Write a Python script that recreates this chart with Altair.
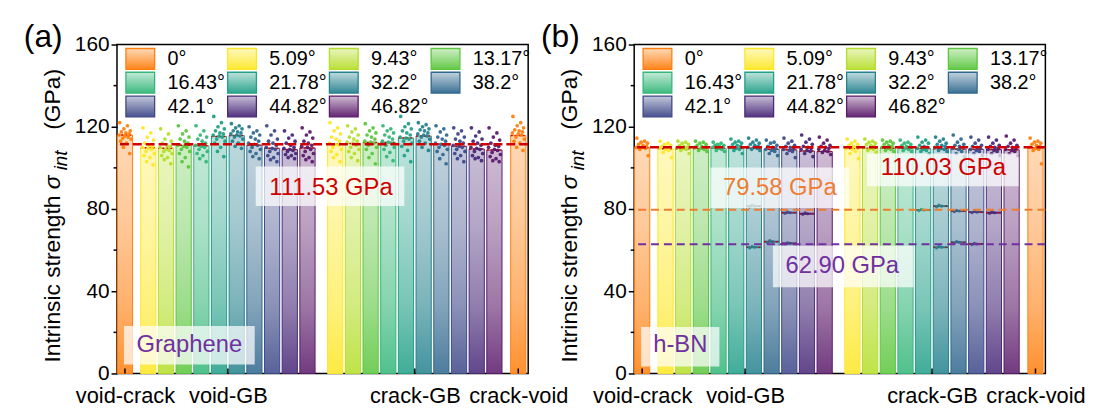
import altair as alt
import pandas as pd

FONT = "Liberation Sans"

# ---------------- data ----------------
ANGLES = ["0°", "5.09°", "9.43°", "13.17°", "16.43°", "21.78°", "32.2°", "38.2°", "42.1°", "44.82°", "46.82°"]
COLORS = ["#FF7F0E", "#FDE725", "#B5DE2B", "#5CC63E", "#35B779", "#22A087",
          "#26828E", "#31688E", "#3E4989", "#482878", "#5B1B6B"]
GROUPS = ["void-crack", "void-GB", "crack-GB", "crack-void"]
Y_TICKS = [0, 40, 80, 120, 160]
Y_MINOR = [20, 60, 100, 140]

# (a) Graphene
A_NAME = "Graphene"
A_VC = 116.0
A_VG = [109.8, 109.6, 111.0, 110.8, 115.3, 115.7, 111.0, 109.5, 108.9, 109.7]
A_CG = [111.6, 111.8, 112.4, 112.4, 114.5, 115.5, 111.6, 110.5, 109.2, 108.7]
A_CV = 115.7
A_REFS = [111.53]
A_VC_PTS = [122, 120.5, 119, 118, 117.5, 117, 116.5, 116, 115.5, 115, 114.5, 114, 113, 112, 110, 107]
A_VG_PTS = [
    [119.5, 117, 115, 113.5, 112, 111, 110.5, 110, 109.5, 109, 108, 107, 106, 105, 103, 101.5],
    [119, 116.5, 114, 113, 112, 111, 110.5, 110, 109, 108.5, 108, 107, 106, 105, 104, 102],
    [120.5, 118, 116.5, 115, 114, 113, 112, 111, 110.5, 110, 109, 108, 107, 105, 103, 100.5],
    [120.5, 118, 116, 115, 114, 113, 112, 111, 110.5, 110, 109, 108, 107, 106, 104.5, 103],
    [125, 122, 120, 119, 118, 117, 116.5, 116, 115.5, 115, 114, 113, 112, 110, 108, 105.5],
    [121.5, 120.5, 119.5, 119, 118, 117.5, 117, 116.5, 116, 115.5, 115, 114, 113, 112, 110.5, 109.5],
    [120, 118, 117, 116, 115, 114, 113, 112, 111.5, 111, 110, 109, 108, 107, 105.5, 104.5],
    [120.5, 118, 116, 114, 113, 112, 111, 110, 109.5, 109, 108, 107, 106, 105, 104, 103],
    [118, 116, 114.5, 113, 112, 111, 110, 109.5, 109, 108.5, 108, 107, 106.5, 106, 105, 104.5],
    [119.5, 117.5, 116, 114.5, 113, 112, 111, 110.5, 110, 109, 108, 107, 106, 105, 104, 103],
]
A_CG_PTS = [
    [122, 119.5, 118, 116.5, 115, 114, 113, 112, 111.5, 111, 110, 109, 108, 106.5, 105, 103],
    [120.5, 119, 117.5, 116, 115, 114, 113, 112.5, 112, 111, 110, 109, 108, 107, 105, 103.5],
    [121.5, 119.5, 118, 117, 116, 115, 114, 113, 112.5, 112, 111, 110, 109, 107, 105, 102],
    [120.5, 119, 118, 117, 116, 115, 114, 113, 112.5, 112, 111, 110, 109, 107.5, 105.5, 103.5],
    [125, 121.5, 120, 119, 118, 117, 116, 115, 114.5, 114, 113, 112, 110.5, 108.5, 106, 103],
    [122, 121, 120, 119, 118.5, 118, 117, 116.5, 116, 115.5, 115, 114, 113, 112, 110, 108.5],
    [120.5, 119, 117.5, 116, 115, 114, 113, 112, 111.5, 111, 110, 109, 108, 106.5, 104.5, 102],
    [119.5, 118, 116.5, 115, 114, 113, 112, 111, 110.5, 110, 109, 108, 107, 106, 104.5, 103],
    [119.5, 117.5, 115.5, 114, 113, 112, 111, 110, 109.5, 109, 108, 107, 106, 105, 104.5, 103.5],
    [119.5, 117, 115, 113.5, 112, 111, 110.5, 110, 109, 108.5, 107.5, 106.5, 105.5, 104.5, 103.5, 103],
]
A_CV_PTS = [125, 122, 120.5, 119.5, 118.5, 118, 117.5, 117, 116.5, 116, 115, 114, 113, 112, 110, 108.5]

# (b) h-BN
B_NAME = "h-BN"
B_VC = 109.8
B_VG = [109.3, 109.3, 109.4, 109.5, 109.6, 109.6, 109.0, 108.8, 108.2, 108.0]
B_CG = [109.4, 109.5, 109.5, 109.5, 109.4, 109.3, 109.2, 109.0, 108.9, 108.8]
B_CV = 109.8
B_REFS = [110.03, 79.58, 62.90]
B_VC_PTS = [114.5, 113, 112.5, 112, 111.5, 111, 110.5, 110, 110, 109.5, 109, 106]
B_VG_PTS = [
    [113, 112, 111.5, 111, 110.5, 110, 110, 109.5, 109, 108.5, 107.5, 105],
    [113, 112.5, 112, 111.5, 111, 110.5, 110, 110, 109.5, 109, 108.5, 107],
    [113, 112.5, 112, 111.5, 111, 110.5, 110, 110, 109.5, 109, 108.5, 108],
    [112.5, 112, 111.5, 111, 111, 110.5, 110, 110, 109.5, 109, 108.5, 108],
    [114, 113, 112.5, 112, 111.5, 111, 110.5, 110, 109.5, 109, 108.5, 107],
    [114.5, 113.5, 112.5, 112, 111.5, 111, 110.5, 110, 110, 109.5, 109, 108.5],
    [113.5, 112.5, 112, 111, 110.5, 110, 109.5, 109, 108.5, 108, 107, 106],
    [114.5, 113, 112, 111, 110.5, 110, 109.5, 109, 108.5, 108, 107, 105],
    [116, 114, 112.5, 111.5, 110.5, 110, 109.5, 109, 108.5, 108, 107, 105.5],
    [115, 113.5, 112, 111, 110.5, 110, 109.5, 109, 108.5, 108, 107.5, 106.5],
]
B_CG_PTS = [
    [114, 113, 112, 111.5, 111, 110.5, 110, 109.5, 109, 108, 107, 104.5],
    [114, 113, 112.5, 112, 111.5, 111, 110.5, 110, 109.5, 109, 108.5, 107.5],
    [113.5, 113, 112.5, 112, 111.5, 111, 110.5, 110, 109.5, 109, 108.5, 108],
    [113.5, 112.5, 112, 111.5, 111, 110.5, 110, 110, 109.5, 109, 108.5, 108],
    [115, 113.5, 112.5, 112, 111, 110.5, 110, 109.5, 109, 108.5, 108, 107],
    [115, 114, 113, 112, 111.5, 111, 110.5, 110, 109.5, 109, 108.5, 108],
    [116, 114, 112.5, 111.5, 111, 110.5, 110, 109.5, 109, 108, 107, 105.5],
    [115, 113.5, 112, 111, 110.5, 110, 109.5, 109, 108.5, 108, 107, 106],
    [115, 113.5, 112, 111, 110.5, 110, 109.5, 109, 108.5, 108, 107, 106],
    [115.5, 113.5, 112, 111, 110.5, 110, 109.5, 109, 108.5, 108, 107, 106],
]
B_CV_PTS = [114.5, 113, 112.5, 112, 111.5, 111, 110.5, 110, 109.5, 109, 108.5, 102]
# lower-strength sub-populations in h-BN (angle, mean value, points)
B_SUB_VG_ANGLE = ["32.2°", "32.2°", "38.2°", "42.1°", "42.1°", "44.82°"]
B_SUB_VG_VALUE = [81.4, 61.4, 64.1, 78.2, 63.3, 77.7]
B_SUB_VG_PTS = [[81.0, 81.4, 81.9], [61.0, 61.4, 61.8], [63.7, 64.1, 64.6],
                [77.9, 78.2, 78.6], [63.0, 63.3, 63.6], [77.4, 77.7, 78.1]]
B_SUB_CG_ANGLE = ["21.78°", "32.2°", "32.2°", "38.2°", "38.2°", "42.1°", "42.1°", "44.82°"]
B_SUB_CG_VALUE = [79.5, 81.4, 61.4, 79.0, 63.8, 78.5, 63.0, 78.2]
B_SUB_CG_PTS = [[79.2, 79.5, 79.8], [81.0, 81.4, 81.9], [61.0, 61.4, 61.8], [78.7, 79.0, 79.4],
                [63.4, 63.8, 64.2], [78.2, 78.5, 78.9], [62.7, 63.0, 63.3], [77.9, 78.2, 78.6]]

# ---------------- layout / style ----------------
W, H = 415, 332
X_DOMAIN = [-0.45, 22.8]
VG0, CG0, CV_X = 1.32, 11.89, 22.24
HALF = 0.43
GROUP_X = [0.0, VG0 + 4.5, CG0 + 4.5, CV_X]
JITTER = [-0.30, 0.14, -0.06, 0.30, -0.20, 0.05, 0.24, -0.33, 0.00, 0.18, -0.13, 0.34, -0.24, 0.09, -0.09, 0.27]
RED = "#D00000"
ORANGE = "#ED7D31"
PURPLE = "#7030A0"

xs = alt.Scale(domain=X_DOMAIN, nice=False, zero=False)
ys = alt.Scale(domain=[0, 160], nice=False, zero=True)


def mix(hexc, t):
    r, g, b = int(hexc[1:3], 16), int(hexc[3:5], 16), int(hexc[5:7], 16)
    f = lambda c: int(round(255 + (c - 255) * t))
    return "#%02x%02x%02x" % (f(r), f(g), f(b))


def grad(c, stops=((0, 0.3), (0.35, 0.42), (0.7, 0.6), (1, 0.86))):
    return alt.LinearGradient(
        gradient="linear",
        stops=[alt.GradientStop(color=mix(c, t), offset=o) for o, t in stops],
        x1=0, x2=0, y1=0, y2=1)


def one(**kw):
    return pd.DataFrame([kw])


def label_expr():
    cuts = [(GROUP_X[i] + GROUP_X[i + 1]) / 2 for i in range(3)]
    e = "'%s'" % GROUPS[3]
    for i in range(2, -1, -1):
        e = "datum.value < %.3f ? '%s' : (%s)" % (cuts[i], GROUPS[i], e)
    return e


X_AXIS = alt.Axis(values=GROUP_X, labelExpr=label_expr(), tickSize=0, labelPadding=12,
                  labelFontSize=22, labelFont=FONT, labelColor="black", domain=False,
                  grid=False, labelOverlap=False, labelFlush=False, title=None)
Y_AXIS = alt.Axis(values=Y_TICKS, tickSize=6, tickWidth=1.5, tickColor="black", labelFontSize=21,
                  labelFont=FONT, labelColor="black", labelPadding=2, domain=False, grid=False,
                  title=None)


def XQ(f):
    return alt.X(f, type="quantitative", scale=xs, axis=X_AXIS)


def YQ(f):
    return alt.Y(f, type="quantitative", scale=ys, axis=Y_AXIS)


def build(tag, vc, vg, cg, cv, vc_pts, vg_pts, cg_pts, cv_pts, refs, ref_styles, ref_boxes,
          name, name_box, subs=None):
    entries = ([(0, 0.0, vc, vc_pts)] +
               [(k + 1, VG0 + k, vg[k], vg_pts[k]) for k in range(10)] +
               [(k + 1, CG0 + k, cg[k], cg_pts[k]) for k in range(10)] +
               [(0, CV_X, cv, cv_pts)])
    bars, pts = [], []
    for ci, x, v, p in entries:
        bars.append(dict(ci=ci, x0=x - HALF, x1=x + HALF, v=v, z=0))
        for i, pv in enumerate(p):
            pts.append(dict(x=x + JITTER[i % len(JITTER)], v=pv, c=COLORS[ci]))
    bdf = pd.DataFrame(bars)
    pdf = pd.DataFrame(pts)

    layers = []
    for ci, col in enumerate(COLORS):
        sub = bdf[bdf.ci == ci]
        layers.append(alt.Chart(sub).mark_rect(fill=grad(col), stroke=col, strokeWidth=1).encode(
            x=XQ("x0"), x2="x1", y=YQ("v"), y2="z"))
    # mean markers
    layers.append(alt.Chart(bdf).mark_rule(color=RED, strokeWidth=1.5, strokeDash=[2, 2]).encode(
        x=XQ("x0"), x2="x1", y=YQ("v")))
    # sub populations
    if subs is not None:
        srows, spts = [], []
        for grp0, angles, vals, plist in subs:
            for a, v, pl in zip(angles, vals, plist):
                k = ANGLES.index(a) - 1
                x = grp0 + k
                col = COLORS[k + 1]
                srows.append(dict(x0=x - HALF, x1=x + HALF, v=v, c=col))
                for i, pv in enumerate(pl):
                    spts.append(dict(x=x + JITTER[(i * 5) % len(JITTER)] * 0.8, v=pv, c=col))
        sdf = pd.DataFrame(srows)
        layers.append(alt.Chart(sdf).mark_rule(strokeWidth=2).encode(
            x=XQ("x0"), x2="x1", y=YQ("v"), color=alt.Color("c:N", scale=None)))
        layers.append(alt.Chart(sdf).mark_rule(color=RED, strokeWidth=1.2, strokeDash=[2, 2]).encode(
            x=XQ("x0"), x2="x1", y=YQ("v")))
        layers.append(alt.Chart(pd.DataFrame(spts)).mark_circle(size=10, opacity=0.9).encode(
            x=XQ("x"), y=YQ("v"), color=alt.Color("c:N", scale=None)))
    # scatter points
    layers.append(alt.Chart(pdf).mark_circle(size=14, opacity=0.95).encode(
        x=XQ("x"), y=YQ("v"), color=alt.Color("c:N", scale=None)))
    # reference dashed lines
    for v, (col, dash, sw) in zip(refs, ref_styles):
        layers.append(alt.Chart(one(v=v)).mark_rule(color=col, strokeDash=dash, strokeWidth=sw).encode(
            y=YQ("v")))
    # reference labels with boxes
    for v, (col, _, _), (bx0, bx1, by0, by1, cx, cy) in zip(refs, ref_styles, ref_boxes):
        layers.append(alt.Chart(one(t="%.2f GPa" % v)).mark_rect(fill="white", opacity=0.72).encode(
            x=alt.value(bx0), x2=alt.value(bx1), y=alt.value(by0), y2=alt.value(by1)))
        layers.append(alt.Chart(one(t="%.2f GPa" % v)).mark_text(
            font=FONT, fontSize=24, color=col, align="center", baseline="middle").encode(
            x=alt.value(cx), y=alt.value(cy), text="t:N"))
    # material label
    bx0, bx1, by0, by1, cx, cy = name_box
    layers.append(alt.Chart(one(t=name)).mark_rect(fill="white", opacity=0.72).encode(
        x=alt.value(bx0), x2=alt.value(bx1), y=alt.value(by0), y2=alt.value(by1)))
    layers.append(alt.Chart(one(t=name)).mark_text(
        font=FONT, fontSize=24, color=PURPLE, align="center", baseline="middle").encode(
        x=alt.value(cx), y=alt.value(cy), text="t:N"))
    # legend
    for i, (a, col) in enumerate(zip(ANGLES, COLORS)):
        r, c = divmod(i, 4)
        x0 = 9 + 102.7 * c
        y0 = 4 + 24 * r
        layers.append(alt.Chart(one(a=a)).mark_rect(
            fill=grad(col, ((0, 0.3), (1, 0.95))), stroke=col, strokeWidth=1.3).encode(
            x=alt.value(x0), x2=alt.value(x0 + 29), y=alt.value(y0), y2=alt.value(y0 + 21)))
        layers.append(alt.Chart(one(a=a)).mark_text(
            font=FONT, fontSize=20, color="black", align="left", baseline="middle").encode(
            x=alt.value(x0 + 42), y=alt.value(y0 + 11), text="a:N"))
    # x ticks (inward)
    layers.append(alt.Chart(pd.DataFrame({"g": GROUP_X})).mark_rule(color="black", strokeWidth=1.5).encode(
        x=XQ("g"), y=alt.value(H), y2=alt.value(H - 5)))
    # minor y ticks
    layers.append(alt.Chart(pd.DataFrame({"m": Y_MINOR})).mark_rule(color="black", strokeWidth=1.5).encode(
        y=YQ("m"), x=alt.value(-3.5), x2=alt.value(0)))
    # y title pieces
    ytx = -57.5
    for t, yy, dx, fs, st in [("Intrinsic strength", 321, 0, 23, "normal"),
                              ("σ", 146, 0, 23, "italic"),
                              ("int", 127, 7, 19, "italic"),
                              ("(GPa)", 86, 0, 23, "normal")]:
        layers.append(alt.Chart(one(t=t)).mark_text(
            font=FONT, fontSize=fs, fontStyle=st, angle=270, align="left", baseline="alphabetic",
            color="black").encode(x=alt.value(ytx + dx), y=alt.value(yy), text="t:N"))
    # panel tag
    layers.append(alt.Chart(one(t=tag)).mark_text(
        font=FONT, fontSize=32, color="black", align="left", baseline="middle").encode(
        x=alt.value(-94), y=alt.value(-8), text="t:N"))
    return alt.layer(*layers).properties(width=W, height=H)


pa = build("(a)", A_VC, A_VG, A_CG, A_CV, A_VC_PTS, A_VG_PTS, A_CG_PTS, A_CV_PTS,
           A_REFS, [(RED, [9, 4], 2.5)],
           [(140, 290, 123, 163, 216, 145)],
           A_NAME, (7, 139, 284, 323, 73, 303))

pb = build("(b)", B_VC, B_VG, B_CG, B_CV, B_VC_PTS, B_VG_PTS, B_CG_PTS, B_CV_PTS,
           B_REFS, [(RED, [9, 4], 2.5), (ORANGE, [8, 5], 2), (PURPLE, [8, 5], 2)],
           [(235, 388, 110, 143, 312, 125), (77, 217, 124, 165, 147, 145), (140, 282, 203, 245, 210, 224)],
           B_NAME, (7, 86, 285, 325, 46.5, 303),
           subs=[(VG0, B_SUB_VG_ANGLE, B_SUB_VG_VALUE, B_SUB_VG_PTS),
                 (CG0, B_SUB_CG_ANGLE, B_SUB_CG_VALUE, B_SUB_CG_PTS)])

chart = alt.hconcat(pa, pb, spacing=107, bounds="flush").properties(
    padding={"left": 15, "top": 10, "right": 0, "bottom": 0}
).configure_view(stroke="black", strokeWidth=1.5)

chart.save("out.html", embed_options={"renderer": "svg", "actions": False})
